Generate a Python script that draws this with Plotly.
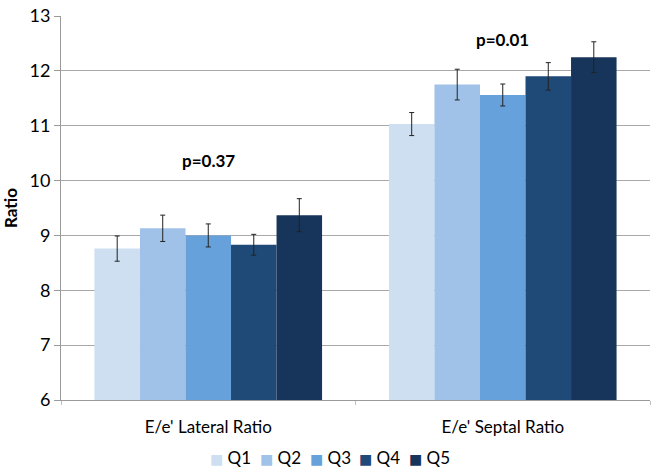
import plotly.graph_objects as go

categories = ["E/e' Lateral Ratio", "E/e' Septal Ratio"]
series_names = ["Q1", "Q2", "Q3", "Q4", "Q5"]
q1 = [8.76, 11.03]
q2 = [9.13, 11.75]
q3 = [9.00, 11.56]
q4 = [8.83, 11.90]
q5 = [9.37, 12.25]
q1_err = [0.23, 0.21]
q2_err = [0.24, 0.28]
q3_err = [0.21, 0.20]
q4_err = [0.19, 0.25]
q5_err = [0.30, 0.28]
p_labels = ["p=0.37", "p=0.01"]
p_label_y = [10.36, 12.58]

values = [q1, q2, q3, q4, q5]
errors = [q1_err, q2_err, q3_err, q4_err, q5_err]
colors = ["#cddff1", "#a0c2e8", "#66a1dc", "#1f4a78", "#17345a"]

FONT = "Lato, 'Open Sans', sans-serif"
W, H = 654, 469
ML, MR, MT, MB = 60, 4, 6, 69
PW, PH = W - ML - MR, H - MT - MB

fig = go.Figure()
for name, v, e, c in zip(series_names, values, errors, colors):
    fig.add_trace(go.Bar(
        x=categories, y=v, name=name, marker=dict(color=c, line=dict(width=0)),
        error_y=dict(type="data", array=e, visible=True, color="#222222",
                     thickness=1, width=2.5),
        showlegend=False,
    ))

for cat, lab, yy in zip(categories, p_labels, p_label_y):
    fig.add_annotation(x=cat, y=yy, text=f"<b>{lab}</b>", showarrow=False,
                       font=dict(size=17, color="#000000", family=FONT))

# legend drawn as a row of swatch + label entries, centred under the chart
legend_start_px, legend_step_px, legend_center_y_px = 207, 50, 459
for i, (name, c) in enumerate(zip(series_names, colors)):
    px = legend_start_px + i * legend_step_px
    fig.add_annotation(
        xref="paper", yref="paper",
        x=(px - ML) / PW, y=(H - MB - legend_center_y_px) / PH,
        xanchor="left", yanchor="middle", showarrow=False,
        text=f"<span style='color:{c};font-size:14px;font-family:DejaVu Sans'>■</span> {name}",
        font=dict(size=17, family=FONT, color="#000000"),
    )

fig.update_layout(
    width=W, height=H,
    margin=dict(l=ML, r=MR, t=MT, b=MB),
    paper_bgcolor="white", plot_bgcolor="white",
    barmode="group", bargap=0.227, bargroupgap=0,
    font=dict(family=FONT, size=17, color="#000000"),
    showlegend=False,
    xaxis=dict(showline=True, linecolor="#9a9a9a", linewidth=1,
               ticks="outside", tickson="boundaries", ticklen=4,
               tickcolor="#c0c0c0", showgrid=False, ticklabelstandoff=12,
               tickfont=dict(size=17, family=FONT)),
    yaxis=dict(range=[6, 13.0001], tickvals=[6, 7, 8, 9, 10, 11, 12, 13],
               showgrid=True, gridcolor="#a8a8a8", ticklabeloverflow="allow",
               gridwidth=1, showline=True, linecolor="#9a9a9a", ticks="outside",
               ticklen=6, tickcolor="#9a9a9a", zeroline=False,
               tickfont=dict(size=18, family=FONT),
               title=dict(text="<b>Ratio</b>", font=dict(size=17, family=FONT),
                          standoff=14)),
)

fig.write_html("out.html", config={"displayModeBar": False},
               post_script="document.body.style.margin='0';")
